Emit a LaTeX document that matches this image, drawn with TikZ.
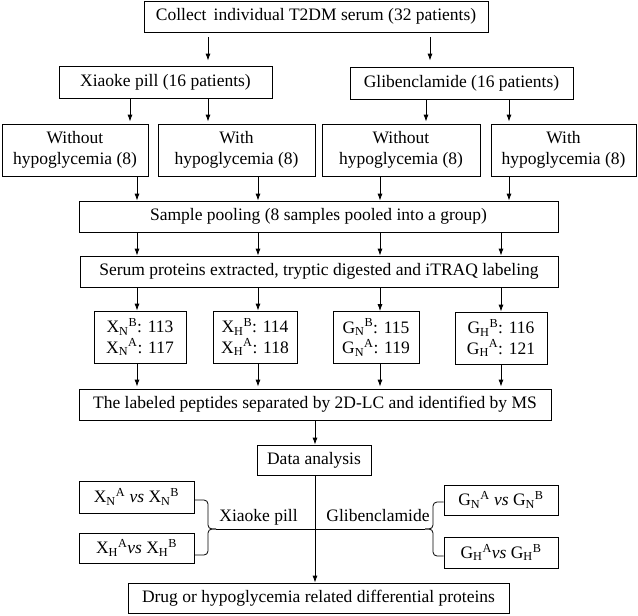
\documentclass[tikz,border=0pt]{standalone}
\usepackage{fontspec}
\setmainfont{Liberation Serif}
\usetikzlibrary{arrows.meta}

\begin{document}
\begin{tikzpicture}[x=1pt,y=-1pt,>={Latex[length=7pt,width=5pt]},
	box/.style={draw,line width=0.8pt,inner sep=0pt,align=center,font=\fontsize{17.5}{20.5}\selectfont},
	lbl/.style={inner sep=0pt,font=\fontsize{17.5}{20.5}\selectfont},
	link/.style={line width=0.8pt,->}]
	
	\useasboundingbox (0,0) rectangle (638,616);
	
	% Draw the patient groups
	\node[box,minimum width=344pt,minimum height=31pt] (top) at (316,16.5) {Collect\, individual T2DM serum (32 patients)};
	\node[box,minimum width=213pt,minimum height=32pt] (xk) at (165.5,82) {Xiaoke pill (16 patients)};
	\node[box,minimum width=223pt,minimum height=32pt] (gb) at (461.5,83) {Glibenclamide (16 patients)};
	
	\node[box,minimum width=146pt,minimum height=52pt] (xn) at (75,150) {Without\\hypoglycemia (8)};
	\node[box,minimum width=157pt,minimum height=52pt] (xh) at (236.5,150) {With\\hypoglycemia (8)};
	\node[box,minimum width=158pt,minimum height=52pt] (gn) at (401,150) {Without\\hypoglycemia (8)};
	\node[box,minimum width=145pt,minimum height=52pt] (gh) at (563.5,150) {With\\hypoglycemia (8)};
	
	% Draw the pooling and labeling steps
	\node[box,minimum width=479pt,minimum height=31pt] (pool) at (318.5,216.5) {Sample pooling (8 samples pooled into a group)};
	\node[box,minimum width=478pt,minimum height=31pt] (serum) at (319,271.5) {Serum proteins extracted, tryptic digested and iTRAQ labeling};
	
	\node[box,minimum width=92pt,minimum height=52pt] (lxn) at (140,337) {X\textsubscript{N}\textsuperscript{B}: 113\\X\textsubscript{N}\textsuperscript{A}: 117};
	\node[box,minimum width=84pt,minimum height=52pt] (lxh) at (255,337) {X\textsubscript{H}\textsuperscript{B}: 114\\X\textsubscript{H}\textsuperscript{A}: 118};
	\node[box,minimum width=86pt,minimum height=52pt] (lgn) at (376,337.5) {G\textsubscript{N}\textsuperscript{B}: 115\\G\textsubscript{N}\textsuperscript{A}: 119};
	\node[box,minimum width=92pt,minimum height=52pt] (lgh) at (501,338) {G\textsubscript{H}\textsuperscript{B}: 116\\G\textsubscript{H}\textsuperscript{A}: 121};
	
	\node[box,minimum width=472pt,minimum height=31pt] (pep) at (315,404.5) {The labeled peptides separated by 2D-LC and identified by MS};
	\node[box,minimum width=114pt,minimum height=30pt] (data) at (314,460) {Data analysis};
	
	% Draw the comparisons
	\node[box,minimum width=115pt,minimum height=32pt] (cxn) at (136.5,497) {X\textsubscript{N}\textsuperscript{A} \textit{vs} X\textsubscript{N}\textsuperscript{B}};
	\node[box,minimum width=115pt,minimum height=30pt] (cxh) at (136.5,548) {X\textsubscript{H}\textsuperscript{A}\textit{vs} X\textsubscript{H}\textsuperscript{B}};
	\node[box,minimum width=114pt,minimum height=30pt] (cgn) at (501,500) {G\textsubscript{N}\textsuperscript{A} \textit{vs} G\textsubscript{N}\textsuperscript{B}};
	\node[box,minimum width=114pt,minimum height=31pt] (cgh) at (501,552.5) {G\textsubscript{H}\textsuperscript{A}\textit{vs} G\textsubscript{H}\textsuperscript{B}};
	
	\node[box,minimum width=381pt,minimum height=30pt] (drug) at (318.5,598) {Drug or hypoglycemia related differential proteins};
	
	% Columns of the arrows
	\coordinate (k1) at (208,0);
	\coordinate (k2) at (430,0);
	\coordinate (k3) at (130,0);
	\coordinate (k4) at (426,0);
	\coordinate (k5) at (509,0);
	\coordinate (c1) at (137,0);
	\coordinate (c2) at (258,0);
	\coordinate (c3) at (380,0);
	\coordinate (c4) at (501,0);
	\coordinate (cm) at (315,0);
	
	% Draw the arrows
	\draw[link,shorten <=5pt,shorten >=5pt] (top.south -| k1) -- (xk.north -| k1);
	\draw[link,shorten <=5pt,shorten >=6pt] (top.south -| k2) -- (gb.north -| k2);
	\draw[link,shorten >=2pt] (xk.south -| k3) -- (xn.north -| k3);
	\draw[link,shorten >=2pt] (xk.south -| k1) -- (xh.north -| k1);
	\draw[link,shorten >=2pt] (gb.south -| k4) -- (gn.north -| k4);
	\draw[link,shorten >=2pt] (gb.south -| k5) -- (gh.north -| k5);
	
	\draw[link] (xn.south -| c1) -- (pool.north -| c1);
	\draw[link] (xh.south -| c2) -- (pool.north -| c2);
	\draw[link] (gn.south -| c3) -- (pool.north -| c3);
	\draw[link] (gh.south -| k5) -- (pool.north -| k5);
	
	\draw[link] (pool.south -| c1) -- (serum.north -| c1);
	\draw[link] (pool.south -| c2) -- (serum.north -| c2);
	\draw[link] (pool.south -| c3) -- (serum.north -| c3);
	\draw[link] (pool.south -| c4) -- (serum.north -| c4);
	
	\draw[link] (serum.south -| c1) -- (lxn.north -| c1);
	\draw[link] (serum.south -| c2) -- (lxh.north -| c2);
	\draw[link] (serum.south -| c3) -- (lgn.north -| c3);
	\draw[link] (serum.south -| c4) -- (lgh.north -| c4);
	
	\draw[link,shorten >=2pt] (lxn.south -| c1) -- (pep.north -| c1);
	\draw[link,shorten >=2pt] (lxh.south -| c2) -- (pep.north -| c2);
	\draw[link,shorten >=2pt] (lgn.south -| c3) -- (pep.north -| c3);
	\draw[link,shorten >=2pt] (lgh.south -| c4) -- (pep.north -| c4);
	
	\draw[link] (pep.south -| cm) -- (data.north -| cm);
	\draw[link] (data.south -| cm) -- (drug.north -| cm);
	
	% Draw the brackets
	\coordinate (lb) at (216,529);
	\coordinate (rb) at (425,529);
	\draw[line width=0.8pt,rounded corners=4pt] ([yshift=-3pt]cxn.east) -- (208,500) -- (208,529) -- (lb);
	\draw[line width=0.8pt,rounded corners=4pt] ([yshift=-7pt]cxh.east) -- (208,555) -- (208,529) -- (lb);
	\draw[line width=0.8pt,rounded corners=4pt] ([yshift=-2pt]cgn.west) -- (433,502) -- (433,529) -- (rb);
	\draw[line width=0.8pt,rounded corners=4pt] ([yshift=-3.5pt]cgh.west) -- (433,556) -- (433,529) -- (rb);
	\draw[line width=0.8pt] (lb) -- (rb);
	
	\node[lbl,anchor=base] (xkl) at (258.5,521) {Xiaoke pill};
	\node[lbl,anchor=base] (gbl) at (378,521) {Glibenclamide};

\end{tikzpicture}
\end{document}
